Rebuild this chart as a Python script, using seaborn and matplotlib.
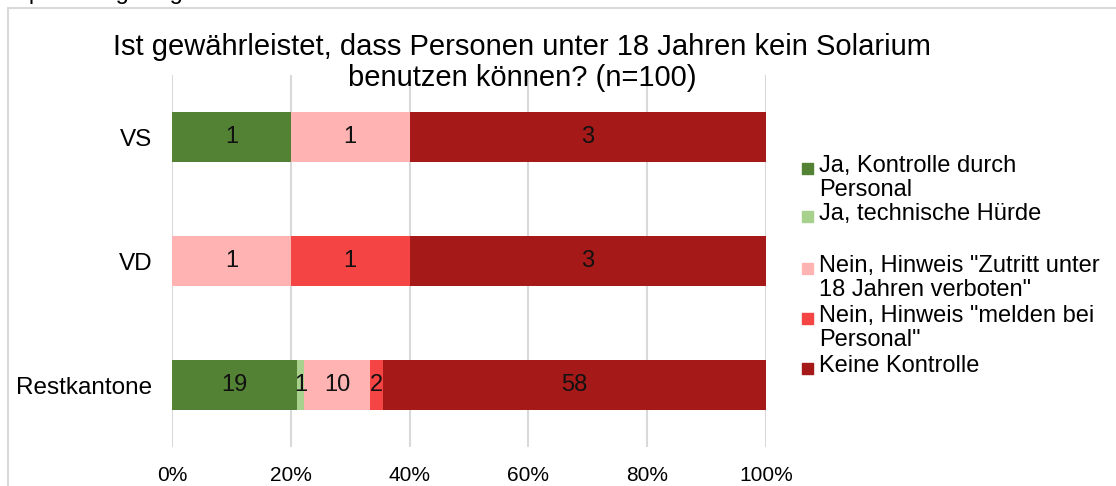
import pandas as pd
import seaborn as sns
import matplotlib.pyplot as plt
from matplotlib.patches import Rectangle

# data
regions = ['VS', 'VD', 'Restkantone']
series = [
    'Ja, Kontrolle durch\nPersonal',
    'Ja, technische Hürde',
    'Nein, Hinweis "Zutritt unter\n18 Jahren verboten"',
    'Nein, Hinweis "melden bei\nPersonal"',
    'Keine Kontrolle',
]
ja_personal = [1, 0, 19]
ja_technisch = [0, 0, 1]
nein_zutritt = [1, 1, 10]
nein_melden = [0, 1, 2]
keine = [3, 3, 58]
colors = ['#548235', '#A9D18E', '#FFB3B3', '#F44444', '#A61919']
title = 'Ist gewährleistet, dass Personen unter 18 Jahren kein Solarium\nbenutzen können? (n=100)'

sns.set_style('white')
plt.rcParams['font.family'] = ['Liberation Sans', 'DejaVu Sans']
plt.rcParams['text.color'] = '#000000'
plt.rcParams['xtick.color'] = '#000000'
plt.rcParams['ytick.color'] = '#000000'

counts = pd.DataFrame([ja_personal, ja_technisch, nein_zutritt, nein_melden, keine],
                      index=series, columns=regions).T
pct = counts.div(counts.sum(axis=1), axis=0) * 100
cum = pct.cumsum(axis=1)

fig = plt.figure(figsize=(11.16, 4.86), dpi=100)
ax = fig.add_axes([172 / 1116, 1 - 447 / 486, 594 / 1116, (447 - 75) / 486])

# stacked bars: draw cumulative totals from the right-most series down
for s, c in reversed(list(zip(series, colors))):
    sns.barplot(x=cum[s].values, y=regions, color=c, orient='h',
                width=0.41, ax=ax, saturation=1, linewidth=0, zorder=3)

for r_i, r in enumerate(regions):
    start = 0
    for s in series:
        v = pct.loc[r, s]
        if counts.loc[r, s] > 0:
            ax.text(start + v / 2, r_i, str(counts.loc[r, s]), ha='center', va='center',
                    fontsize=17, color='#111111', zorder=5)
        start += v

ax.set_xlim(0, 100)
ax.set_ylim(2.5, -0.5)
ax.set_xticks(range(0, 101, 20))
ax.set_xticklabels([f'{t}%' for t in range(0, 101, 20)])
ax.grid(axis='x', color='#D9D9D9', lw=1.5, zorder=0)
ax.set_axisbelow(True)
sns.despine(ax=ax, left=True, bottom=True)
ax.tick_params(axis='x', labelsize=15, pad=14, length=0)
ax.tick_params(axis='y', labelsize=17.5, pad=14, length=0)
ax.set_xlabel('')
ax.set_ylabel('')

fig.text(0.468, 1 - 33 / 486, title, ha='center', va='top', fontsize=21, linespacing=1.12)

# legend placed like the original (handle next to first text line)
leg_y = [168, 216, 268, 318, 368]
for s, c, y in zip(series, colors, leg_y):
    fig.patches.append(Rectangle((802 / 1116, 1 - (y + 6) / 486), 11 / 1116, 11 / 486,
                                 transform=fig.transFigure, color=c, figure=fig))
    fig.text(819 / 1116, 1 - (y - 13) / 486, s, ha='left', va='top', fontsize=17,
             linespacing=1.1)

# chart frame and clipped text above it
fig.patches.append(Rectangle((8 / 1116, -0.2), 1.2, 1.2 - 8 / 486,
                             transform=fig.transFigure, fill=False, edgecolor='#D9D9D9',
                             lw=1.5, figure=fig))
fig.text(0.0, 1.002, 'Separat abgefragt werden', ha='left', va='baseline', fontsize=17)

fig.savefig('out.png', dpi=100, facecolor='white')
